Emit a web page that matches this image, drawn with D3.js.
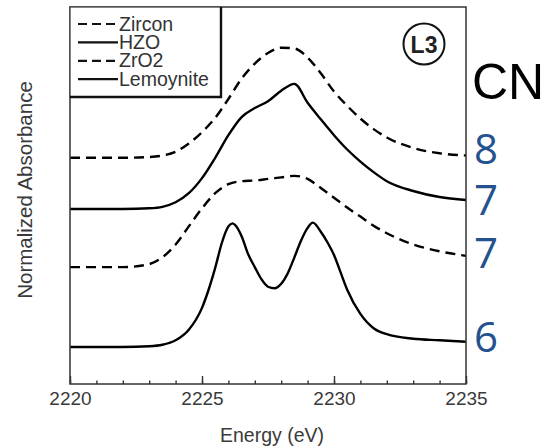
<!DOCTYPE html>
<html>
<head>
<meta charset="utf-8">
<script src="https://cdn.jsdelivr.net/npm/d3@7"></script>
<style>
  body { margin: 0; background: #fff; }
  svg { display: block; }
</style>
</head>
<body>
<svg id="chart" width="554" height="448"></svg>
<script>
// energy grid (eV) for the broad spectra
const energy = [2220, 2221, 2222, 2223, 2223.5, 2224, 2224.5, 2225, 2225.5, 2226, 2226.5, 2227, 2227.5,
  2228, 2228.5, 2229, 2229.5, 2230, 2230.5, 2231, 2231.5, 2232, 2233, 2234, 2235];
// finer grid for the two-peak spectrum
const energyFine = [2220, 2221, 2222, 2223, 2223.5, 2224, 2224.5, 2225, 2225.25, 2225.5, 2225.75, 2226, 2226.15,
  2226.25, 2226.5, 2226.75, 2227, 2227.25, 2227.5, 2227.75, 2228, 2228.25, 2228.5, 2228.75, 2229, 2229.2,
  2229.5, 2229.75, 2230, 2230.25, 2230.5, 2231, 2231.5, 2232, 2233, 2234, 2235];

// normalized absorbance (relative to each spectrum's baseline)
const zircon = [0, 0, 0, 0.01, 0.03, 0.08, 0.19, 0.34, 0.53, 0.78, 1.05, 1.25, 1.39,
  1.46, 1.45, 1.33, 1.12, 0.88, 0.69, 0.52, 0.38, 0.27, 0.13, 0.06, 0.03];
const hzo = [0, 0, 0, 0.01, 0.03, 0.09, 0.21, 0.41, 0.68, 0.98, 1.22, 1.34, 1.43,
  1.57, 1.66, 1.41, 1.19, 0.98, 0.79, 0.63, 0.49, 0.37, 0.24, 0.16, 0.12];
const zro2 = [0, 0, 0, 0.04, 0.13, 0.30, 0.54, 0.78, 0.98, 1.10, 1.14, 1.15, 1.17,
  1.19, 1.21, 1.17, 1.05, 0.92, 0.79, 0.67, 0.55, 0.45, 0.30, 0.21, 0.15];
const lemoynite = [0, 0, 0, 0.01, 0.03, 0.09, 0.23, 0.52, 0.76, 1.05, 1.38, 1.60, 1.64,
  1.62, 1.47, 1.23, 1.06, 0.90, 0.80, 0.78, 0.84, 0.98, 1.19, 1.41, 1.58, 1.65,
  1.53, 1.39, 1.22, 0.99, 0.76, 0.44, 0.25, 0.17, 0.11, 0.09, 0.07];

// vertical offsets used to stack the spectra
const offsets = [3.0, 2.32, 1.55, 0.49];
const seriesNames = ["Zircon", "HZO", "ZrO2", "Lemoynite"];
const coordNumbers = ["8", "7", "7", "6"];
const majorTicks = [2220, 2225, 2230, 2235];
const minorTicks = d3.range(2220, 2236, 1);

const series = [
  {name: seriesNames[0], x: energy, y: zircon, off: offsets[0], dashed: true},
  {name: seriesNames[1], x: energy, y: hzo, off: offsets[1], dashed: false},
  {name: seriesNames[2], x: energy, y: zro2, off: offsets[2], dashed: true},
  {name: seriesNames[3], x: energyFine, y: lemoynite, off: offsets[3], dashed: false}
];

const margin = {top: 7, right: 88, bottom: 64, left: 70};
const width = 554 - margin.left - margin.right;
const height = 448 - margin.top - margin.bottom;

const svg = d3.select("#chart");
const g = svg.append("g").attr("transform", `translate(${margin.left},${margin.top})`);

const x = d3.scaleLinear().domain([2220, 2235]).range([0, width]);
const y = d3.scaleLinear().domain([0, 5]).range([height, 0]);

const font = "'Liberation Sans', Arial, sans-serif";

// spectra
const line = d3.line()
  .x(d => x(d[0]))
  .y(d => y(d[1]))
  .curve(d3.curveMonotoneX);

series.forEach(s => {
  const pts = s.x.map((e, i) => [e, s.off + s.y[i]]);
  g.append("path")
    .datum(pts)
    .attr("fill", "none")
    .attr("stroke", "#000")
    .attr("stroke-width", 2.4)
    .attr("stroke-dasharray", s.dashed ? "10,6" : null)
    .attr("d", line);
});

// minor ticks (inward)
g.append("g")
  .attr("transform", `translate(0,${height})`)
  .call(d3.axisBottom(x).tickValues(minorTicks).tickSize(-3.5).tickFormat(""))
  .call(a => a.select(".domain").remove())
  .call(a => a.selectAll("line").attr("stroke", "#333").attr("stroke-width", 1.4));

// major ticks with labels
g.append("g")
  .attr("transform", `translate(0,${height})`)
  .call(d3.axisBottom(x).tickValues(majorTicks).tickSize(-8).tickPadding(8).tickFormat(d3.format("d")))
  .call(a => a.select(".domain").remove())
  .call(a => a.selectAll("line").attr("stroke", "#333").attr("stroke-width", 1.4))
  .call(a => a.selectAll("text")
    .attr("fill", "#3a3a3a")
    .style("font-family", font)
    .style("font-size", "19px"));

// frame
g.append("rect")
  .attr("width", width)
  .attr("height", height)
  .attr("fill", "none")
  .attr("stroke", "#333")
  .attr("stroke-width", 1.5);

// axis titles
svg.append("text")
  .attr("x", margin.left + width / 2 + 4)
  .attr("y", 442)
  .attr("text-anchor", "middle")
  .attr("fill", "#3a3a3a")
  .style("font-family", font)
  .style("font-size", "19.5px")
  .text("Energy (eV)");

svg.append("text")
  .attr("transform", `translate(32,190) rotate(-90)`)
  .attr("text-anchor", "middle")
  .attr("fill", "#3a3a3a")
  .style("font-family", font)
  .style("font-size", "20.5px")
  .text("Normalized Absorbance");

// legend box
const legend = g.append("g");
legend.append("rect")
  .attr("width", 151)
  .attr("height", 90)
  .attr("fill", "#fff")
  .attr("stroke", "#444")
  .attr("stroke-width", 1.3);
legend.append("path")
  .attr("d", "M151,0V90H0")
  .attr("fill", "none")
  .attr("stroke", "#111")
  .attr("stroke-width", 2.4);

const rows = legend.selectAll(".row")
  .data(series)
  .enter()
  .append("g")
  .attr("transform", (d, i) => `translate(8,${17 + i * 18.4})`);

rows.append("line")
  .attr("x1", 0).attr("x2", 40)
  .attr("stroke", "#111")
  .attr("stroke-width", 2.2)
  .attr("stroke-dasharray", d => d.dashed ? "9,5" : null);

rows.append("text")
  .attr("x", 41)
  .attr("y", 6.5)
  .attr("fill", "#333")
  .style("font-family", font)
  .style("font-size", "19.5px")
  .text(d => d.name);

// L3 marker
const l3 = g.append("g").attr("transform", `translate(${424 - margin.left},${44 - margin.top})`);
l3.append("circle").attr("r", 20.5).attr("fill", "none").attr("stroke", "#111").attr("stroke-width", 2);
l3.append("text")
  .attr("text-anchor", "middle")
  .attr("y", 8.5)
  .attr("fill", "#222")
  .style("font-family", font)
  .style("font-weight", "bold")
  .style("font-size", "23px")
  .text("L3");

// coordination number annotations
svg.append("text")
  .attr("x", 472)
  .attr("y", 99)
  .attr("fill", "#000")
  .style("font-family", font)
  .style("font-size", "50px")
  .text("CN");

svg.selectAll(".cn")
  .data(series)
  .enter()
  .append("text")
  .attr("x", 474)
  .attr("y", (d, i) => [164, 215, 268, 352][i])
  .attr("fill", "#24528f")
  .style("font-family", "'Open Sans', 'Noto Sans', sans-serif")
  .style("font-size", "42px")
  .text((d, i) => coordNumbers[i]);
</script>
</body>
</html>
